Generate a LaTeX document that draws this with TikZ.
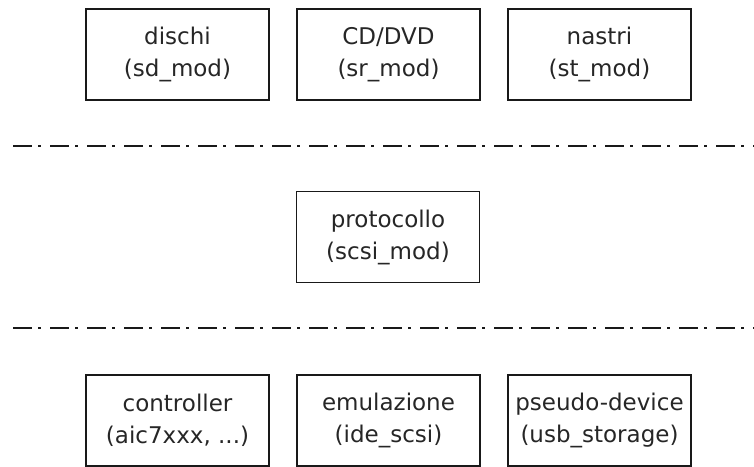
\documentclass[tikz,border=0pt]{standalone}
\usepackage{fontspec}
\setmainfont{DejaVu Sans}
\usetikzlibrary{positioning}
\tikzset{
  modbox/.style = {rectangle, draw=black!90, line width=1.5pt,
                   minimum width=183pt, minimum height=91pt,
                   inner sep=0pt, align=center, text=black!85,
                   font=\fontsize{23}{32}\selectfont},
  sepline/.style = {line width=2pt, black!90,
                    dash pattern=on 19pt off 6pt on 2.5pt off 9.5pt},
}

\begin{document}
\begin{tikzpicture}[x=1pt, y=-1pt, node distance=26.5pt and 26.5pt]
  \useasboundingbox (0,0) rectangle (754,466);

  % livello alto
  \node[modbox] (disk) at (177.5,54.5) {dischi\\(sd\_mod)};
  \node[modbox, right=of disk] (cdrom) {CD/DVD\\(sr\_mod)};
  \node[modbox, right=of cdrom] (tape) {nastri\\(st\_mod)};

  \coordinate (sepA) at (13,146);
  \coordinate (sepAend) at (760,146);
  \draw[sepline] (sepA) -- (sepAend);

  % livello medio
  \node[modbox] (proto) at (388,237) {protocollo\\(scsi\_mod)};

  \coordinate (sepB) at (13,328);
  \coordinate (sepBend) at (760,328);
  \draw[sepline] (sepB) -- (sepBend);

  % livello basso
  \node[modbox] (ctrl) at (177.5,420.5) {controller\\(aic7xxx, ...)};
  \node[modbox, right=of ctrl] (emul) {emulazione\\(ide\_scsi)};
  \node[modbox, right=of emul] (pseudo) {pseudo-device\\(usb\_storage)};
\end{tikzpicture}
\end{document}
